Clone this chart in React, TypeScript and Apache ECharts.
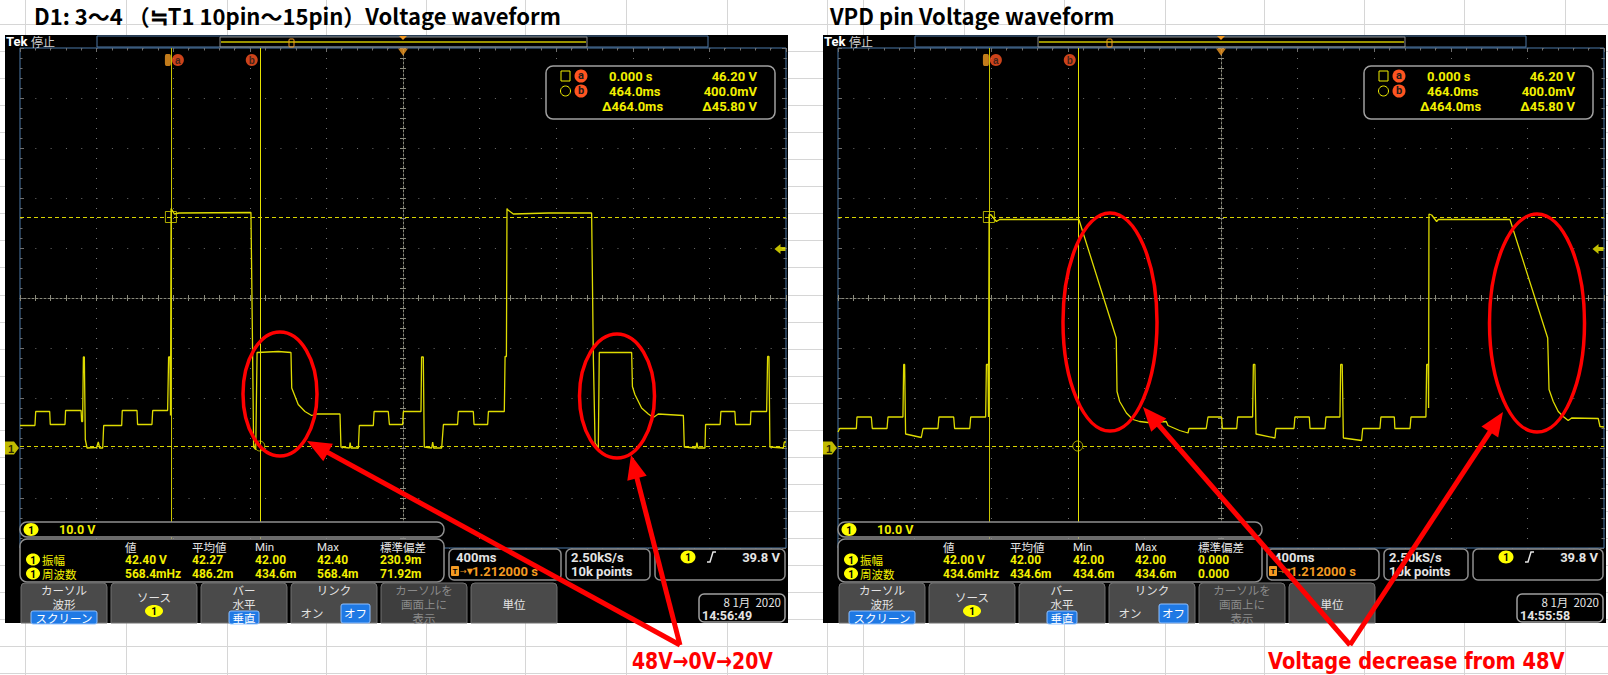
import React, { useEffect, useRef } from "react";
import * as echarts from "echarts";

// ---------------- data ----------------
// Horizontal: 10 div x 400 ms, time in ms measured from the left edge of the screen
const timeRangeMs = [0, 4000];
const timePerDivMs = 400;
// Vertical: 10.0 V/div, ground 3 div below centre
const voltRange = [-20, 80];
const voltPerDiv = 10;

// D1: 3~4 waveform (left screen)
const d1Time = [0, 78, 82, 155, 158, 235, 238, 319, 322, 327, 331, 336, 341, 350, 400, 409, 416, 432, 437, 531, 534, 611, 614, 689, 693, 771, 776, 783, 786, 789, 794, 806, 830, 1206, 1213, 1220, 1231, 1238, 1349, 1415, 1419, 1453, 1488, 1523, 1549, 1671, 1676, 1720, 1724, 1728, 1767, 1772, 1845, 1849, 1923, 1929, 1998, 2002, 2094, 2097, 2106, 2111, 2150, 2155, 2160, 2202, 2211, 2285, 2289, 2367, 2371, 2442, 2446, 2529, 2533, 2540, 2543, 2548, 2576, 2759, 2985, 2994, 3003, 3020, 3025, 3194, 3198, 3211, 3246, 3281, 3307, 3333, 3464, 3469, 3530, 3535, 3540, 3577, 3580, 3656, 3660, 3733, 3737, 3814, 3817, 3899, 3904, 3911, 3916, 3986, 3991, 4000];
const d1Volt = [4.5, 4.5, 7.3, 7.3, 4.7, 4.7, 7.5, 7.5, 5.3, 5.3, 18.2, 18.2, 1.7, 0, 0.1, 1.2, 0, 0, 4.5, 4.5, 7.5, 7.5, 4.7, 4.7, 7.5, 7.5, 18.2, 18.2, 6.5, 47.9, 47.6, 46.8, 47.0, 47.1, 24.7, 0.2, -0.3, 19.1, 19.3, 19.1, 12.0, 8.7, 7.3, 6.5, 6.8, 6.8, 0.2, 0, 1.1, 0, 0, 4.5, 4.5, 7.3, 7.3, 4.7, 4.7, 7.3, 7.3, 18.2, 18.2, 0.2, 0, 1.2, 0, 0, 4.7, 4.7, 7.3, 7.3, 4.7, 4.7, 7.3, 7.3, 18.3, 18.3, 47.9, 47.6, 46.8, 47.0, 47.0, 18.0, 1.0, 0, 19.1, 19.1, 12.3, 10.7, 8.0, 6.8, 6.1, 6.8, 6.5, 0.2, 0, 1.1, 0, 0, 4.7, 4.7, 7.3, 7.3, 4.7, 4.7, 7.3, 7.3, 18.3, 18.3, 0.2, 0, 1.2, 1.2];

// VPD pin waveform (right screen)
const vpdTime = [0, 9, 96, 99, 174, 179, 256, 261, 339, 343, 348, 353, 435, 444, 522, 527, 604, 609, 688, 693, 771, 775, 783, 786, 789, 800, 827, 844, 1258, 1453, 1457, 1471, 1506, 1540, 1575, 1619, 1714, 1723, 1784, 1828, 1833, 1923, 1932, 2003, 2007, 2082, 2087, 2165, 2169, 2177, 2183, 2282, 2287, 2381, 2386, 2461, 2465, 2543, 2548, 2621, 2625, 2633, 2639, 2734, 2740, 2830, 2835, 2905, 2908, 2987, 2992, 3070, 3074, 3082, 3084, 3086, 3100, 3126, 3135, 3509, 3706, 3713, 3735, 3761, 3787, 3813, 3831, 3970, 3979, 4000];
const vpdVolt = [3.2, 3.9, 3.9, 6.2, 6.2, 3.9, 3.9, 6.2, 6.2, 16.7, 16.7, 2.8, 2.1, 3.9, 3.9, 6.2, 6.2, 3.9, 3.9, 6.2, 6.2, 16.7, 16.7, 6.2, 46.7, 46.6, 45.3, 45.7, 45.7, 22.0, 11.3, 9.3, 7.0, 5.7, 5.3, 5.1, 5.3, 4.5, 3.5, 3.0, 3.9, 3.9, 6.2, 6.2, 3.9, 3.9, 6.2, 6.2, 16.7, 16.7, 2.8, 2.0, 3.9, 3.9, 6.2, 6.2, 3.9, 3.9, 6.2, 6.2, 16.7, 16.7, 2.0, 1.5, 3.9, 3.9, 6.2, 6.2, 3.9, 3.9, 6.2, 6.2, 16.7, 16.7, 8.0, 46.8, 46.6, 45.3, 45.7, 45.7, 22.0, 11.7, 9.3, 7.3, 6.3, 5.5, 6.0, 5.9, 4.3, 4.2];

// Cursors (identical on both screens)
const cursorTime = [788, 1252]; // a, b  (delta 464 ms)
const cursorVolt = [46.2, 0.4]; // a, b  (delta 45.80 V)
const triggerTime = 2000; // screen centre
const triggerLevel = 39.8;

const titles = ["D1: 3～4 （≒T1 10pin～15pin）Voltage waveform", "VPD pin Voltage waveform"];
const notes = ["48V→0V→20V", "Voltage decrease from 48V"];
const cursorReadout = [["0.000 s", "46.20 V"], ["464.0ms", "400.0mV"], ["Δ464.0ms", "Δ45.80 V"]];
const measHeaders = ["値", "平均値", "Min", "Max", "標準偏差"];
const measNames = ["振幅", "周波数"];
const d1Meas = [["42.40 V", "42.27", "42.00", "42.40", "230.9m"], ["568.4mHz", "486.2m", "434.6m", "568.4m", "71.92m"]];
const vpdMeas = [["42.00 V", "42.00", "42.00", "42.00", "0.000"], ["434.6mHz", "434.6m", "434.6m", "434.6m", "0.000"]];
const scaleLabel = "10.0 V";
const horizLabels = ["400ms", "1.212000 s"];
const acqLabels = ["2.50kS/s", "10k points"];
const trigLabel = "39.8 V";
const dateLabel = "8 1月  2020";
const clockLabels = ["14:56:49", "14:55:58"];
const buttonLabels = [["カーソル", "波形"], ["ソース"], ["バー", "水平"], ["リンク"], ["カーソルを", "画面上に", "表示"], ["単位"]];

// ---------------- layout / style ----------------
const SCOPE_X = [5, 823];
const GRID_W = 766;
const GRID_H = 500;
const GRID_TOP = 48;
const SHEET_COLS = [25, 126, 227, 326, 426, 525, 626, 727, 827, 863, 964, 1064, 1165, 1264, 1364, 1464, 1565];
const SHEET_ROW0 = 24;
const SHEET_ROW_H = 27.05;

const NUM = "Roboto, 'Liberation Sans', sans-serif";
const CJK = "'Noto Sans CJK JP', sans-serif";
const YEL = "#f2ef00";
const WHT = "#e4e4e4";
const ORG = "#f39a22";
const CURC = "#ff5420";
const BLUE = "#1f79e4";
const RED = "#ff0000";
const GRAT = "#6e6e6e";
const CENTER = "#8a8a7c";
const PANEL = "#8e8e8e";

function txt(x: number, y: number, text: string, fill: string, size: number, o: any = {}) {
  const a = o.a || "left";
  return {
    type: "text", x, y, z: o.z ?? 60, silent: true, scaleX: o.sx ?? 1,
    style: {
      text, fill,
      font: `${o.w || "normal"} ${size}px ${o.f || NUM}`,
      textAlign: a, align: a, textVerticalAlign: "middle", verticalAlign: "middle",
    },
  };
}
function rect(x: number, y: number, w: number, h: number, o: any = {}) {
  return {
    type: "rect", z: o.z ?? 55, silent: true,
    shape: { x, y, width: w, height: h, r: o.r ?? 0 },
    style: { fill: o.fill ?? "none", stroke: o.stroke ?? "none", lineWidth: o.lw ?? 1 },
  };
}
function badge(cx: number, cy: number, rx = 7.5, ry = 6.5) {
  return [
    { type: "ellipse", z: 58, silent: true, shape: { cx, cy, rx, ry }, style: { fill: "#ffff00" } },
    txt(cx, cy + 0.5, "1", "#000", 10, { a: "center", w: "bold", z: 59 }),
  ];
}
function arrow(bx: number, by: number, tx: number, ty: number) {
  const dx = tx - bx, dy = ty - by, len = Math.hypot(dx, dy);
  const ux = dx / len, uy = dy / len, nx = -uy, ny = ux;
  const L = 24, Wd = 10;
  const hx = tx - ux * L, hy = ty - uy * L;
  return [
    { type: "line", z: 100, silent: true, shape: { x1: bx, y1: by, x2: hx + ux * 3, y2: hy + uy * 3 }, style: { stroke: RED, lineWidth: 5 } },
    { type: "polygon", z: 100, silent: true, shape: { points: [[tx, ty], [hx + nx * Wd, hy + ny * Wd], [hx - nx * Wd, hy - ny * Wd]] }, style: { fill: RED } },
  ];
}

function overlay(g: number, meas: string[][], clock: string) {
  const x0 = SCOPE_X[g];
  const X = (r: number) => x0 + r;
  const el: any[] = [];
  el.push(rect(x0, 35, 783, 588, { fill: "#000", z: -1 }));
  // top bar
  el.push(txt(X(1), 41.5, "Tek", "#ffffff", 13, { w: "bold" }));
  el.push(txt(X(26), 41.5, "停止", "#cfcfcf", 12, { f: CJK }));
  el.push(rect(X(92), 36, 611, 11, { stroke: "#4f78a6" }));
  el.push(rect(X(215), 37, 367, 10, { stroke: "#8c8c8c" }));
  el.push({ type: "line", z: 56, silent: true, shape: { x1: X(216), y1: 42, x2: X(581), y2: 42 }, style: { stroke: "#cfc400", lineWidth: 1.5 } });
  el.push(rect(X(284), 39, 5, 8, { stroke: ORG, r: 1, z: 57 }));
  el.push({ type: "polygon", z: 57, silent: true, shape: { points: [[X(394), 36], [X(402), 36], [X(398), 40]] }, style: { fill: ORG } });
  // cursor readout
  el.push(rect(X(541), 66, 229, 53, { r: 7, stroke: "#a0a0a0", lw: 1.5, fill: "#000" }));
  el.push(rect(X(556), 71, 9, 10, { stroke: YEL, z: 58 }));
  el.push({ type: "circle", z: 58, silent: true, shape: { cx: X(560.5), cy: 91, r: 5 }, style: { fill: "none", stroke: YEL } });
  ["a", "b"].forEach((c, i) => {
    el.push({ type: "circle", z: 58, silent: true, shape: { cx: X(576), cy: 76 + 15 * i, r: 6.5 }, style: { fill: CURC } });
    el.push(txt(X(576), 75.5 + 15 * i, c, "#1a1a1a", 11, { a: "center", w: "bold", z: 59 }));
  });
  cursorReadout.forEach((row, i) => {
    el.push(txt(X(i === 2 ? 597 : 604), 76 + 15 * i, row[0], YEL, 13, { w: "bold" }));
    el.push(txt(X(752), 76 + 15 * i, row[1], YEL, 13, { w: "bold", a: "right" }));
  });
  // channel scale
  el.push(rect(X(15), 522, 424, 15, { r: 7, stroke: PANEL, lw: 1.5, fill: "#000" }));
  el.push(...badge(X(26), 529.5));
  el.push(txt(X(54), 529.5, scaleLabel, YEL, 12.5, { w: "bold" }));
  // measurements
  el.push(rect(X(15), 539, 424, 43, { r: 7, stroke: PANEL, lw: 1.5, fill: "#000" }));
  const colX = [120, 187, 250, 312, 375];
  measHeaders.forEach((h, i) => el.push(txt(X(colX[i]), 546.5, h, WHT, 11.5, { f: i === 2 || i === 3 ? NUM : CJK })));
  meas.forEach((row, r) => {
    const y = 559.5 + 14 * r;
    el.push(...badge(X(28), y, 7, 6));
    el.push(txt(X(37), y, measNames[r], YEL, 11.5, { f: CJK }));
    row.forEach((v, i) => el.push(txt(X(colX[i]), y, v, YEL, 12, { w: "bold" })));
  });
  // horizontal
  el.push(rect(X(444), 549, 112, 31, { r: 5, stroke: PANEL, lw: 1.5, fill: "#000" }));
  el.push(txt(X(451), 557, horizLabels[0], WHT, 13, { w: "bold" }));
  el.push(rect(X(446), 566, 8, 10, { fill: ORG, r: 1, z: 57 }));
  el.push(txt(X(450), 571.5, "T", "#000", 8, { a: "center", w: "bold" }));
  el.push(txt(X(455), 571, "→▼", ORG, 8, { f: "'DejaVu Sans'" }));
  el.push(txt(X(467), 571, horizLabels[1], ORG, 13, { w: "bold" }));
  // acquisition
  el.push(rect(X(561), 549, 84, 31, { r: 5, stroke: PANEL, lw: 1.5, fill: "#000" }));
  el.push(txt(X(566), 557, acqLabels[0], WHT, 13, { w: "bold" }));
  el.push(txt(X(566), 571, acqLabels[1], WHT, 13, { w: "bold" }));
  // trigger
  el.push(rect(X(650), 549, 130, 31, { r: 5, stroke: PANEL, lw: 1.5, fill: "#000" }));
  el.push(...badge(X(683), 557));
  el.push({ type: "polyline", z: 58, silent: true, shape: { points: [[X(702), 562], [X(705), 562], [X(708), 552], [X(711), 552]] }, style: { stroke: WHT, lineWidth: 1.5, fill: "none" } });
  el.push(txt(X(775), 557, trigLabel, WHT, 13, { w: "bold", a: "right" }));
  // soft buttons
  buttonLabels.forEach((lines, i) => {
    const bx = X(16 + 90 * i);
    const cx = bx + 43;
    const dim = i === 4;
    el.push(rect(bx, 583, 86, 40, { r: [4, 4, 0, 0], fill: dim ? "#3e3e3e" : "#4a4a4a", stroke: "#707070" }));
    const col = dim ? "#8a8a8a" : WHT;
    const fs = 11.5;
    if (i === 0) {
      el.push(txt(cx, 590, lines[0], col, fs, { f: CJK, a: "center" }));
      el.push(txt(cx, 604, lines[1], col, fs, { f: CJK, a: "center" }));
      el.push(rect(cx - 33, 611, 66, 13, { fill: BLUE, stroke: "#8fc0ff", r: 2, z: 57 }));
      el.push(txt(cx, 617.5, "スクリーン", "#fff", fs, { f: CJK, a: "center" }));
    } else if (i === 1) {
      el.push(txt(cx, 597, lines[0], col, fs, { f: CJK, a: "center" }));
      el.push(...badge(cx, 611, 9, 6));
    } else if (i === 2) {
      el.push(txt(cx, 590, lines[0], col, fs, { f: CJK, a: "center" }));
      el.push(txt(cx, 603.5, lines[1], col, fs, { f: CJK, a: "center" }));
      el.push(rect(cx - 15, 611, 30, 13, { fill: BLUE, stroke: "#8fc0ff", r: 2, z: 57 }));
      el.push(txt(cx, 617.5, "垂直", "#fff", fs, { f: CJK, a: "center" }));
    } else if (i === 3) {
      el.push(txt(cx, 590, lines[0], col, fs, { f: CJK, a: "center" }));
      el.push(txt(cx - 22, 613, "オン", col, fs, { f: CJK, a: "center" }));
      el.push(rect(cx + 7, 604, 29, 19, { fill: BLUE, stroke: "#8fc0ff", r: 2, z: 57 }));
      el.push(txt(cx + 21.5, 613, "オフ", "#fff", fs, { f: CJK, a: "center" }));
    } else if (i === 4) {
      lines.forEach((l, k) => el.push(txt(cx, 590 + 14 * k, l, col, fs, { f: CJK, a: "center" })));
    } else {
      el.push(txt(cx, 604, lines[0], col, fs, { f: CJK, a: "center" }));
    }
  });
  // date
  el.push(rect(X(694), 594, 86, 28, { r: 5, stroke: "#a0a0a0", lw: 1.5, fill: "#000" }));
  el.push(txt(X(776), 602, dateLabel, WHT, 11.5, { f: CJK, a: "right" }));
  el.push(txt(X(697), 615.5, clock, WHT, 12.5, { w: "bold" }));
  return el;
}

const hidden = {
  axisLabel: { show: false }, splitLine: { show: false },
  axisLine: { show: false, onZero: false }, axisTick: { show: false },
};

function xAxes(g: number) {
  const base = { gridIndex: g, type: "value", min: timeRangeMs[0], max: timeRangeMs[1], silent: true };
  const minor = timePerDivMs / 5;
  return [
    {
      ...base, ...hidden, position: "top", interval: timePerDivMs,
      axisTick: { show: true, inside: true, length: 4, lineStyle: { color: GRAT } },
      minorTick: { show: true, splitNumber: 5, length: 2.5, lineStyle: { color: GRAT } },
      splitLine: { show: true, lineStyle: { color: GRAT, width: 1, type: [1, 9] } },
    },
    {
      ...base, ...hidden, position: "bottom", offset: -GRID_H / 2, interval: minor,
      axisLine: { show: true, onZero: false, lineStyle: { color: CENTER, type: [2, 2] } },
      axisTick: { show: true, inside: true, length: 3, lineStyle: { color: CENTER } },
    },
    {
      ...base, ...hidden, position: "bottom", offset: -GRID_H / 2, interval: minor,
      axisTick: { show: true, inside: false, length: 3, lineStyle: { color: CENTER } },
    },
  ];
}
function yAxes(g: number) {
  const base = { gridIndex: g, type: "value", min: voltRange[0], max: voltRange[1], silent: true };
  const minor = voltPerDiv / 5;
  return [
    {
      ...base, ...hidden, position: "left", interval: voltPerDiv,
      axisTick: { show: true, inside: true, length: 4, lineStyle: { color: GRAT } },
      minorTick: { show: true, splitNumber: 5, length: 2.5, lineStyle: { color: GRAT } },
      splitLine: { show: true, lineStyle: { color: GRAT, width: 1, type: [1, 14.32] } },
    },
    {
      ...base, ...hidden, position: "right", interval: voltPerDiv,
      axisTick: { show: true, inside: true, length: 4, lineStyle: { color: GRAT } },
      minorTick: { show: true, splitNumber: 5, length: 2.5, lineStyle: { color: GRAT } },
    },
    {
      ...base, ...hidden, position: "left", offset: -GRID_W / 2, interval: minor,
      axisLine: { show: true, onZero: false, lineStyle: { color: CENTER, type: [2, 2] } },
      axisTick: { show: true, inside: true, length: 3, lineStyle: { color: CENTER } },
    },
    {
      ...base, ...hidden, position: "left", offset: -GRID_W / 2, interval: minor,
      axisTick: { show: true, inside: false, length: 3, lineStyle: { color: CENTER } },
    },
  ];
}

function seriesFor(g: number, time: number[], volt: number[]) {
  const xi = g * 3, yi = g * 4;
  const common = { xAxisIndex: xi, yAxisIndex: yi, silent: true, animation: false };
  const top = voltRange[1];
  return [
    {
      ...common, type: "line", z: 5, showSymbol: false, symbol: "none",
      data: time.map((t, i) => [t, volt[i]]),
      lineStyle: { color: "#dedb00", width: 1.3 },
      markLine: {
        silent: true, symbol: ["none", "none"], label: { show: false }, animation: false,
        data: [
          { xAxis: cursorTime[0], lineStyle: { color: "#c8c400", width: 1, type: "solid" } },
          { xAxis: cursorTime[1], lineStyle: { color: "#e6e200", width: 1, type: "solid" } },
          { yAxis: cursorVolt[0], lineStyle: { color: "#d8d400", width: 1, type: [4, 3] } },
          { yAxis: cursorVolt[1], lineStyle: { color: "#d8d400", width: 1, type: [4, 3] } },
        ],
      },
    },
    {
      ...common, type: "scatter", z: 6, clip: false,
      data: [
        { value: [cursorTime[0], cursorVolt[0]], symbol: "rect", symbolSize: [11, 11] },
        { value: [cursorTime[1], cursorVolt[1]], symbol: "circle", symbolSize: 10 },
      ],
      itemStyle: { color: "rgba(0,0,0,0)", borderColor: "#d8d400", borderWidth: 1 },
    },
    {
      ...common, type: "scatter", z: 7, clip: false,
      data: [
        { value: [timeRangeMs[1], triggerLevel], symbol: "path://M0,5 L6,0 L6,3 L11,3 L11,7 L6,7 L6,10 Z", symbolSize: [11, 10], symbolOffset: [-6, 0], itemStyle: { color: YEL } },
        {
          value: [timeRangeMs[0], 0], symbol: "path://M0,0 L9,0 L14,6.5 L9,13 L0,13 Z", symbolSize: [14, 13], symbolOffset: [-8, 0],
          itemStyle: { color: "#f2ea00" },
          label: { show: true, position: "inside", formatter: "1", color: "#000", fontSize: 11, fontWeight: "bold", offset: [-1, 1] },
        },
        { value: [cursorTime[0], top], symbol: "roundRect", symbolSize: [6, 12], symbolOffset: [-3, 12], itemStyle: { color: ORG } },
        {
          value: [cursorTime[0], top], symbol: "circle", symbolSize: 12, symbolOffset: [7, 12], itemStyle: { color: CURC },
          label: { show: true, position: "inside", formatter: "a", color: "#1a1a1a", fontSize: 10, fontWeight: "bold" },
        },
        {
          value: [cursorTime[1], top], symbol: "circle", symbolSize: 12, symbolOffset: [-8, 12], itemStyle: { color: CURC },
          label: { show: true, position: "inside", formatter: "b", color: "#1a1a1a", fontSize: 10, fontWeight: "bold" },
        },
        { value: [triggerTime, top], symbol: "triangle", symbolRotate: 180, symbolSize: [10, 7], symbolOffset: [0, 4], itemStyle: { color: ORG } },
      ],
    },
  ];
}

function buildOption() {
  const graphic: any[] = [];
  // spreadsheet background
  for (let k = 0; k < 25; k++) {
    const y = Math.round(SHEET_ROW0 + SHEET_ROW_H * k) + 0.5;
    graphic.push({ type: "line", z: -2, silent: true, shape: { x1: 0, y1: y, x2: 1608, y2: y }, style: { stroke: "#d6d6d6", lineWidth: 1 } });
  }
  SHEET_COLS.forEach((x) => {
    graphic.push({ type: "line", z: -2, silent: true, shape: { x1: x + 0.5, y1: 0, x2: x + 0.5, y2: 675 }, style: { stroke: "#d6d6d6", lineWidth: 1 } });
  });
  // titles
  graphic.push(txt(34, 14.5, titles[0], "#000", 22, { f: CJK, w: "bold", z: 10 }));
  graphic.push(txt(830, 14.5, titles[1], "#000", 22, { f: CJK, w: "bold", z: 10 }));
  graphic.push(...overlay(0, d1Meas, clockLabels[0]));
  graphic.push(...overlay(1, vpdMeas, clockLabels[1]));
  // red annotations
  const ell = (cx: number, cy: number, rx: number, ry: number) => ({
    type: "ellipse", z: 100, silent: true, shape: { cx, cy, rx, ry }, style: { fill: "none", stroke: RED, lineWidth: 3.5 },
  });
  graphic.push(ell(280, 394, 37, 62), ell(617, 396, 37.5, 62), ell(1110, 322, 47, 109), ell(1537, 323, 47.5, 109));
  graphic.push(...arrow(680, 645, 307, 441), ...arrow(680, 645, 631, 455));
  graphic.push(...arrow(1350, 645, 1143, 407), ...arrow(1350, 645, 1503, 412));
  graphic.push(txt(632, 661, notes[0], RED, 23, { f: "'DejaVu Sans'", w: "bold", sx: 0.82, z: 101 }));
  graphic.push(txt(1268, 661, notes[1], RED, 23, { f: "'DejaVu Sans'", w: "bold", sx: 0.845, z: 101 }));

  return {
    animation: false,
    backgroundColor: "#ffffff",
    grid: SCOPE_X.map((x0) => ({
      left: x0 + 15, top: GRID_TOP, width: GRID_W, height: GRID_H,
      show: true, borderColor: "#4a78a8", borderWidth: 1, backgroundColor: "transparent", containLabel: false,
    })),
    xAxis: [...xAxes(0), ...xAxes(1)],
    yAxis: [...yAxes(0), ...yAxes(1)],
    series: [...seriesFor(0, d1Time, d1Volt), ...seriesFor(1, vpdTime, vpdVolt)],
    graphic,
  };
}

export default function App() {
  const ref = useRef<HTMLDivElement>(null);
  useEffect(() => {
    const chart = echarts.init(ref.current!, null, { renderer: "svg" });
    chart.setOption(buildOption() as any);
    return () => chart.dispose();
  }, []);
  return (
    <div
      ref={ref}
      style={{ position: "fixed", left: 0, top: 0, width: 1608, height: 675, background: "#fff" }}
    />
  );
}
